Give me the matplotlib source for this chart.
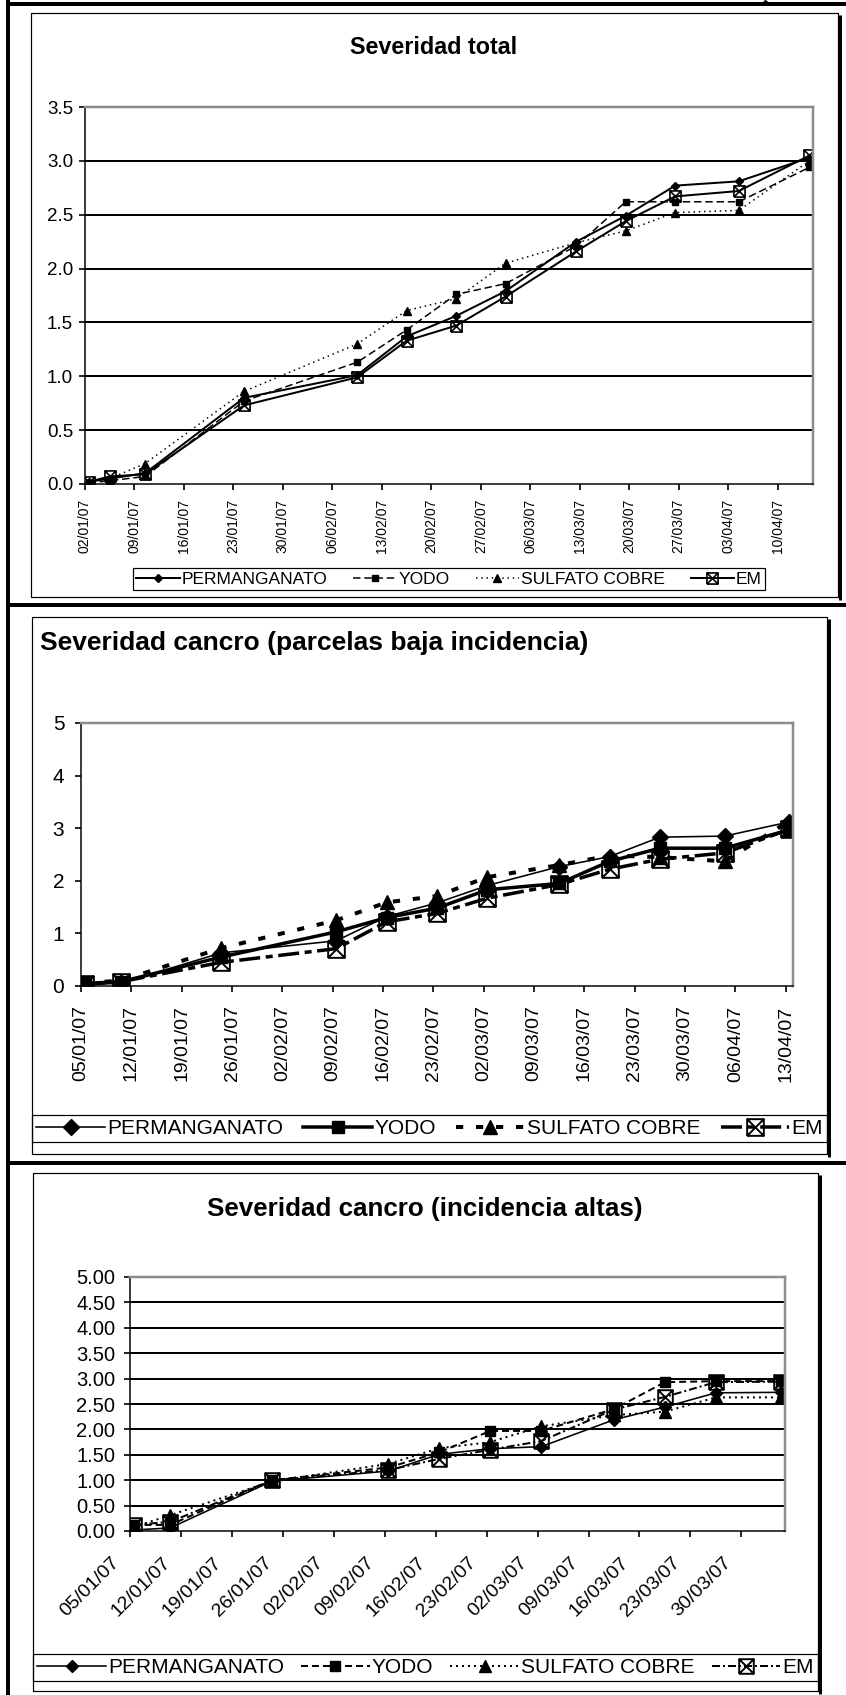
import numpy as np
import matplotlib
matplotlib.use("Agg")
import matplotlib.pyplot as plt
import matplotlib.dates as mdates
from matplotlib.lines import Line2D
from matplotlib.path import Path
from matplotlib.transforms import ScaledTranslation

W, H, DPI = 846, 1695, 100

SERIES = ["PERMANGANATO", "YODO", "SULFATO COBRE", "EM"]

# --- Severidad total ---
total_dates = ["2007-01-02", "2007-01-05", "2007-01-10", "2007-01-24", "2007-02-09",
               "2007-02-16", "2007-02-23", "2007-03-02", "2007-03-12", "2007-03-19",
               "2007-03-26", "2007-04-04", "2007-04-14"]
total_perm = [0.02, 0.05, 0.10, 0.80, 1.01, 1.37, 1.56, 1.79, 2.25, 2.49, 2.77, 2.81, 3.03]
total_yodo = [0.01, 0.03, 0.07, 0.77, 1.13, 1.43, 1.76, 1.86, 2.21, 2.62, 2.62, 2.62, 2.94]
total_sulf = [0.02, 0.05, 0.19, 0.86, 1.30, 1.61, 1.72, 2.05, 2.24, 2.35, 2.52, 2.54, 3.00]
total_em = [0.02, 0.07, 0.09, 0.73, 0.99, 1.33, 1.47, 1.74, 2.16, 2.44, 2.67, 2.72, 3.05]

# --- Severidad cancro (parcelas baja incidencia) ---
baja_dates = ["2007-01-05", "2007-01-10", "2007-01-24", "2007-02-09", "2007-02-16",
              "2007-02-23", "2007-03-02", "2007-03-12", "2007-03-19", "2007-03-26",
              "2007-04-04", "2007-04-13"]
baja_perm = [0.03, 0.05, 0.63, 0.86, 1.32, 1.58, 1.91, 2.27, 2.46, 2.83, 2.85, 3.12]
baja_yodo = [0.05, 0.08, 0.55, 1.03, 1.30, 1.48, 1.83, 1.95, 2.37, 2.62, 2.62, 2.97]
baja_sulf = [0.06, 0.10, 0.72, 1.25, 1.59, 1.71, 2.07, 2.30, 2.48, 2.45, 2.37, 3.14]
baja_em = [0.03, 0.08, 0.45, 0.71, 1.22, 1.38, 1.67, 1.93, 2.22, 2.41, 2.53, 2.98]

# --- Severidad cancro (incidencia altas) ---
alta_dates = ["2007-01-05", "2007-01-10", "2007-01-24", "2007-02-09", "2007-02-16",
              "2007-02-23", "2007-03-02", "2007-03-12", "2007-03-19", "2007-03-26",
              "2007-04-04"]
alta_perm = [0.02, 0.06, 0.98, 1.18, 1.51, 1.62, 1.66, 2.19, 2.44, 2.72, 2.73]
alta_yodo = [0.12, 0.12, 1.00, 1.25, 1.55, 1.97, 1.97, 2.40, 2.93, 2.95, 2.95]
alta_sulf = [0.08, 0.31, 0.98, 1.32, 1.63, 1.75, 2.06, 2.28, 2.35, 2.63, 2.63]
alta_em = [0.12, 0.18, 1.00, 1.20, 1.42, 1.60, 1.77, 2.39, 2.64, 2.93, 2.94]

# open square with a cross, like the Excel "EM" marker
BOX_X = Path(
    [(-1, -1), (1, -1), (1, 1), (-1, 1), (-1, -1), (-1, -1), (1, 1), (-1, 1), (1, -1)],
    [Path.MOVETO, Path.LINETO, Path.LINETO, Path.LINETO, Path.LINETO,
     Path.MOVETO, Path.LINETO, Path.MOVETO, Path.LINETO],
)

PX = 0.72  # points per pixel at 100 dpi

plt.rcParams["font.family"] = ["Liberation Sans", "DejaVu Sans"]


def fx(x):
    return x / W


def fy(y):
    return 1 - y / H


def fig_line(fig, xs, ys, lw_px, color="black"):
    fig.add_artist(Line2D([fx(x) for x in xs], [fy(y) for y in ys],
                          transform=fig.transFigure, lw=lw_px * PX, color=color,
                          solid_capstyle="butt"))


def chart_box(fig, x0, y0, x1, y1):
    fig_line(fig, [x0, x1, x1, x0, x0], [y0, y0, y1, y1, y0], 1.2)
    fig_line(fig, [x1 + 2, x1 + 2], [y0 + 2, y1 + 3], 3)


def to_x(dates):
    # Excel date axis: each day is a slot, the point sits in its middle
    return np.array(dates, dtype="datetime64[D]") + np.timedelta64(12, "h")


def draw_chart(fig, plot_px, dates, values, styles, ylim, yticks, yfmt, ytick_size,
               xlim, xticks, xtick_size, xrot, grid, ypad, xpad, ticklen, xshift=0):
    x0, y0, x1, y1 = plot_px
    ax = fig.add_axes([fx(x0), fy(y1), (x1 - x0) / W, (y1 - y0) / H])
    x = to_x(dates)
    for vals, st in zip(values, styles):
        ax.plot(x, vals, **st)
    ax.set_xlim(np.datetime64(xlim[0]), np.datetime64(xlim[1]))
    ax.set_ylim(*ylim)
    ax.set_yticks(yticks)
    ax.set_yticklabels([yfmt.format(v) for v in yticks], fontsize=ytick_size)
    ax.set_xticks(np.array(xticks, dtype="datetime64[D]"))
    ax.xaxis.set_major_formatter(mdates.DateFormatter("%d/%m/%y"))
    if grid:
        for v in yticks[1:-1]:
            ax.axhline(v, color="black", lw=2 * PX, zorder=0.5)
    for side in ("top", "right"):
        ax.spines[side].set_color("#8c8c8c")
        ax.spines[side].set_linewidth(2.5 * PX)
    for side in ("left", "bottom"):
        ax.spines[side].set_color("black")
        ax.spines[side].set_linewidth(1.5 * PX)
    ax.tick_params(axis="y", direction="out", length=ticklen, width=1.2, pad=ypad)
    ax.tick_params(axis="x", direction="out", length=ticklen, width=1.2, pad=xpad,
                   labelsize=xtick_size)
    for lab in ax.get_xticklabels():
        lab.set_rotation(xrot)
        if xrot == 90:
            lab.set_ha("center")
            lab.set_va("top")
        else:
            lab.set_ha("right")
            lab.set_va("top")
            lab.set_rotation_mode("anchor")
            lab.set_transform(lab.get_transform()
                              + ScaledTranslation(xshift / DPI, 0, fig.dpi_scale_trans))
    return ax


def add_legend(fig, ax, styles, box_px, fontsize, handlelength, colspacing):
    x0, y0, x1, y1 = box_px
    handles = [Line2D([], [], **st) for st in styles]
    leg = ax.legend(handles, SERIES, loc="center", ncol=4, mode="expand",
                    bbox_to_anchor=(fx(x0), fy(y1), (x1 - x0) / W, (y1 - y0) / H),
                    bbox_transform=fig.transFigure, frameon=True, fancybox=False,
                    edgecolor="black", framealpha=1, borderaxespad=0, borderpad=0.2,
                    handlelength=handlelength, handletextpad=0.1,
                    columnspacing=colspacing, fontsize=fontsize, numpoints=1)
    leg.get_frame().set_linewidth(1.2 * PX)
    return leg


def weekly(start, stop):
    return np.arange(np.datetime64(start), np.datetime64(stop) + 1, 7)


def main():
    fig = plt.figure(figsize=(W / DPI, H / DPI), dpi=DPI)

    # page table borders
    fig_line(fig, [8, 8], [0, H], 4)
    for y in (4, 605, 1163):
        fig_line(fig, [6, W], [y, y], 4)
    fig.text(fx(768), fy(-3), "p", family="Liberation Serif", fontsize=16,
             ha="center", va="baseline")

    # ---------- chart 1 ----------
    chart_box(fig, 31, 13, 838, 597)
    fig.text(fx(434), fy(48), "Severidad total", fontsize=16.8, fontweight="bold",
             ha="center", va="center")
    total_styles = [
        dict(color="black", lw=2 * PX, ls="-", marker="D", ms=4.5, mfc="black", mec="black"),
        dict(color="black", lw=1.5 * PX, ls=(0, (5, 2.5)), marker="s", ms=5, mfc="black", mec="black"),
        dict(color="black", lw=1.5 * PX, ls=(0, (1, 2.5)), marker="^", ms=6, mfc="black", mec="black"),
        dict(color="black", lw=2 * PX, ls="-", marker=BOX_X, ms=8, mfc="none", mec="black", mew=1.2),
    ]
    ax1 = draw_chart(fig, (85, 107, 813, 484), total_dates,
                     [total_perm, total_yodo, total_sulf, total_em], total_styles,
                     (0, 3.5), [0, 0.5, 1.0, 1.5, 2.0, 2.5, 3.0, 3.5], "{:.1f}", 13.5,
                     ("2007-01-02", "2007-04-15"), weekly("2007-01-02", "2007-04-10"),
                     10, 90, True, 4, 6, 4.5)
    add_legend(fig, ax1, total_styles, (133, 564, 765, 594), 12.5, 2.5, 0.4)

    # ---------- chart 2 ----------
    chart_box(fig, 32, 617, 827, 1154)
    fig.text(fx(40), fy(643), "Severidad cancro (parcelas baja incidencia)", fontsize=19,
             fontweight="bold", ha="left", va="center")
    baja_styles = [
        dict(color="black", lw=1.6 * PX, ls="-", marker="D", ms=8, mfc="black", mec="black"),
        dict(color="black", lw=3.5 * PX, ls="-", marker="s", ms=8, mfc="black", mec="black"),
        dict(color="black", lw=4 * PX, ls=(0, (1.8, 3.2)), marker="^", ms=10, mfc="black", mec="black"),
        dict(color="black", lw=3.5 * PX, ls=(0, (6, 1.6, 2, 1.6)), marker=BOX_X, ms=12,
             mfc="none", mec="black", mew=1.4),
    ]
    ax2 = draw_chart(fig, (81, 723, 793, 986), baja_dates,
                     [baja_perm, baja_yodo, baja_sulf, baja_em], baja_styles,
                     (0, 5), [0, 1, 2, 3, 4, 5], "{:d}", 15,
                     ("2007-01-05", "2007-04-14"), weekly("2007-01-05", "2007-04-13"),
                     14, 90, False, 8, 10, 4)
    add_legend(fig, ax2, baja_styles, (32, 1108, 827, 1149), 15, 3.3, 0.5)

    # ---------- chart 3 ----------
    chart_box(fig, 33, 1173, 818, 1691)
    fig.text(fx(425), fy(1209), "Severidad cancro (incidencia altas)", fontsize=18.7,
             fontweight="bold", ha="center", va="center")
    alta_styles = [
        dict(color="black", lw=1.6 * PX, ls="-", marker="D", ms=6.5, mfc="black", mec="black"),
        dict(color="black", lw=2 * PX, ls=(0, (3.5, 2)), marker="s", ms=7, mfc="black", mec="black"),
        dict(color="black", lw=2 * PX, ls=(0, (1, 2)), marker="^", ms=8, mfc="black", mec="black"),
        dict(color="black", lw=2 * PX, ls=(0, (4, 1.5, 1, 1.5)), marker=BOX_X, ms=10.5,
             mfc="none", mec="black", mew=1.4),
    ]
    ax3 = draw_chart(fig, (130, 1277, 785, 1531), alta_dates,
                     [alta_perm, alta_yodo, alta_sulf, alta_em], alta_styles,
                     (0, 5), [0, 0.5, 1.0, 1.5, 2.0, 2.5, 3.0, 3.5, 4.0, 4.5, 5.0], "{:.2f}", 14.5,
                     ("2007-01-05", "2007-04-05"), weekly("2007-01-05", "2007-03-30"),
                     14, 45, True, 6, 12, 4.5, xshift=-19)
    add_legend(fig, ax3, alta_styles, (33, 1648, 818, 1687), 15, 3.3, 0.5)

    fig.savefig("out.png", dpi=DPI)
    plt.close(fig)


if __name__ == "__main__":
    main()
